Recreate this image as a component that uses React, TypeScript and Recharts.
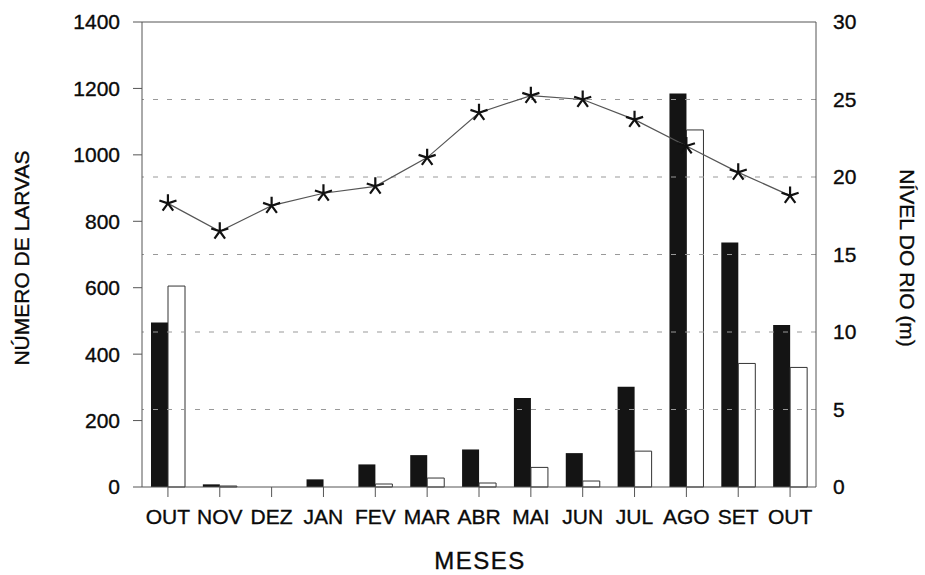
import React from "react";
import {
  ComposedChart,
  Bar,
  Line,
  XAxis,
  YAxis,
  ReferenceLine,
  Label,
} from "recharts";

// meses de coleta (out -> out)
const meses = ["OUT", "NOV", "DEZ", "JAN", "FEV", "MAR", "ABR", "MAI", "JUN", "JUL", "AGO", "SET", "OUT"];
// número de larvas — barras pretas e brancas
const larvasPretas = [495, 8, 0, 23, 68, 96, 113, 268, 102, 302, 1185, 736, 488];
const larvasBrancas = [605, 3, 0, 0, 9, 27, 12, 59, 18, 108, 1075, 372, 360];
// nível do rio (m)
const nivelRio = [18.3, 16.5, 18.15, 18.95, 19.4, 21.25, 24.15, 25.25, 25.0, 23.7, 22.0, 20.3, 18.8];

const ticksLarvas = [0, 200, 400, 600, 800, 1000, 1200, 1400];
const ticksNivel = [0, 5, 10, 15, 20, 25, 30];

const data = meses.map((m, i) => ({
  mes: m,
  pretas: larvasPretas[i],
  brancas: larvasBrancas[i],
  nivel: nivelRio[i],
}));

const FONT = "'Liberation Sans', Arial, Helvetica, sans-serif";
const AXIS = "#555";
const tick = { fontSize: 21, fill: "#0a0a0a", stroke: "#0a0a0a", strokeWidth: 0.35, fontFamily: FONT };
const titulo = { fontFamily: FONT, fill: "#0a0a0a", stroke: "#0a0a0a", strokeWidth: 0.35 };

// asterisco de 5 braços usado como marcador da linha
function Asterisco(props: any) {
  const { cx, cy } = props;
  if (cx == null || cy == null) return null;
  const r = 9;
  const d = [0, 1, 2, 3, 4]
    .map((k) => {
      const a = ((-90 + k * 72) * Math.PI) / 180;
      return `M${cx},${cy}L${cx + r * Math.cos(a)},${cy + r * Math.sin(a)}`;
    })
    .join("");
  return <path d={d} stroke="#111" strokeWidth={2.2} fill="none" />;
}

export default function App() {
  return (
    <div style={{ position: "absolute", left: 0, top: 0, width: 925, height: 575, background: "#fff" }}>
      <ComposedChart
        width={925}
        height={575}
        data={data}
        margin={{ top: 22, right: 0, bottom: 0, left: 0 }}
        barGap={0}
      >
        <XAxis
          dataKey="mes"
          height={88}
          tick={tick}
          tickSize={10}
          tickMargin={12}
          tickLine={{ stroke: AXIS }}
          axisLine={{ stroke: AXIS }}
          interval={0}
        >
          <Label
            content={() => (
              <text x={480} y={569} textAnchor="middle" fontSize={24} letterSpacing={1.5} {...titulo}>
                MESES
              </text>
            )}
          />
        </XAxis>
        <YAxis
          yAxisId="left"
          width={142}
          domain={[0, 1400]}
          ticks={ticksLarvas}
          tick={tick}
          tickSize={9}
          tickMargin={13}
          tickLine={{ stroke: AXIS }}
          axisLine={{ stroke: AXIS }}
          interval={0}
        >
          <Label
            content={() => (
              <text
                x={21}
                y={258}
                transform="rotate(-90 21 258)"
                textAnchor="middle"
                dominantBaseline="central"
                fontSize={21}
                {...titulo}
              >
                NÚMERO DE LARVAS
              </text>
            )}
          />
        </YAxis>
        <YAxis
          yAxisId="right"
          orientation="right"
          width={109}
          domain={[0, 30]}
          ticks={ticksNivel}
          tick={tick}
          tickSize={8}
          tickMargin={9}
          tickLine={false}
          axisLine={{ stroke: AXIS }}
          interval={0}
        >
          <Label
            content={() => (
              <text
                x={907}
                y={258}
                transform="rotate(90 907 258)"
                textAnchor="middle"
                dominantBaseline="central"
                fontSize={21}
                {...titulo}
              >
                NÍVEL DO RIO (m)
              </text>
            )}
          />
        </YAxis>

        {/* linhas de grade tracejadas nos valores do eixo direito */}
        {ticksNivel.slice(1, -1).map((v) => (
          <ReferenceLine key={v} yAxisId="right" y={v} stroke="#999" strokeDasharray="5 9" />
        ))}
        <ReferenceLine yAxisId="left" y={1400} stroke={AXIS} />

        <Bar yAxisId="left" dataKey="pretas" barSize={17} fill="#141414" isAnimationActive={false} />
        <Bar
          yAxisId="left"
          dataKey="brancas"
          barSize={17}
          fill="#fff"
          stroke="#333"
          strokeWidth={1}
          isAnimationActive={false}
        />
        <Line
          yAxisId="right"
          dataKey="nivel"
          type="linear"
          stroke="#555"
          strokeWidth={1.2}
          dot={<Asterisco />}
          activeDot={false}
          isAnimationActive={false}
        />
      </ComposedChart>
    </div>
  );
}
